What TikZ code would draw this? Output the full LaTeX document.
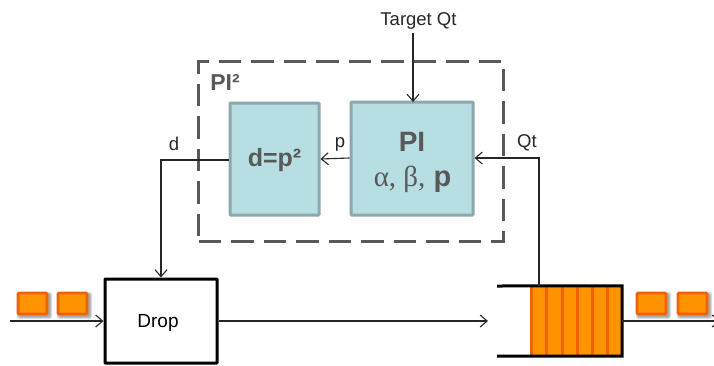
\documentclass[tikz,border=0pt]{standalone}
\usepackage{fontspec}
\setmainfont{Liberation Sans}
\newfontfamily\grk{Liberation Serif}
\usetikzlibrary{arrows.meta,calc}
\definecolor{txtgrey}{HTML}{595959}
\definecolor{tealfill}{HTML}{B7DEE3}
\definecolor{tealedge}{HTML}{8CA8AC}
\definecolor{orfill}{HTML}{FF9400}
\definecolor{oredge}{HTML}{F26000}
\tikzset{
  x=1pt,y=-1pt,
  conn/.style={line width=1.1pt,draw=black!85,-{Straight Barb[length=7pt,width=12pt,line width=1.1pt]}},
  tealbox/.style={draw=tealedge,fill=tealfill,line width=3pt,rounded corners=0.8pt,inner sep=0pt,text=txtgrey,align=center},
  packet/.style={draw=oredge,fill=orfill,line width=2.6pt,rounded corners=1pt,minimum width=29pt,minimum height=21pt,inner sep=0pt},
  pshadow/.style={fill=black,opacity=0.13,rounded corners=2pt,minimum width=33pt,minimum height=25pt,inner sep=0pt},
  label/.style={font=\fontsize{18.5}{22}\selectfont,text=black!85,inner sep=0pt},
  stripe/.style={draw=oredge,line width=3pt},
  qwall/.style={line width=3pt,draw=black},
}
\begin{document}
\begin{tikzpicture}
\useasboundingbox (0,0) rectangle (714,365);
% dashed PI2 frame
\node[draw=txtgrey,line width=3pt,dash pattern=on 22.5pt off 10pt,minimum width=305pt,minimum height=180pt,inner sep=0pt] (frame) at (351,151) {};
\node[text=txtgrey,font=\bfseries\fontsize{23}{26}\selectfont,inner sep=0pt] (pitwo) at (225,82) {PI²};
% boxes
\node[tealbox,minimum width=122pt,minimum height=113pt] (pi) at (412,158.5) {};
\node[text=txtgrey,inner sep=0pt,font=\bfseries\fontsize{28}{32}\selectfont] (pit) at (412,142) {PI};
\node[text=txtgrey,inner sep=0pt,font=\bfseries\fontsize{29}{32}\selectfont] (pip) at (412.5,179) {{\grk\mdseries α, β,} p};
\node[tealbox,minimum width=89pt,minimum height=112pt] (dbox) at (274.5,159) {};
\node[text=txtgrey,inner sep=0pt,font=\bfseries\fontsize{25}{28}\selectfont] (dtext) at (274.5,160.5) {d=p²};
\node[draw=black,line width=3pt,fill=white,minimum width=112pt,minimum height=84pt,inner sep=0pt,rounded corners=0.5pt] (drop) at (161,321) {};
\node[inner sep=0pt,font=\fontsize{19}{22}\selectfont] (droptext) at (158,322.5) {Drop};
% queue
\node[fill=orfill,minimum width=92pt,minimum height=70pt,inner sep=0pt] (queue) at (576,321) {};
\foreach \x in {531,546,562,577,592,607}{\draw[stripe] (\x,286) -- (\x,356);}
\coordinate (qtl) at (497,286);
\coordinate (qbl) at (497,356);
\draw[qwall] (qtl) -- (queue.north east) -- (queue.south east) -- (qbl);
% packets
\foreach \x in {32.5,72.5,651.5,692.5}{
  \foreach \d in {0,1,2}{\node[pshadow,minimum width=35pt-2pt*\d,minimum height=27pt-2pt*\d] at (\x+2,305.5) {};}
}
\node[packet] (pa) at (32.5,303.5) {};
\node[packet] (pb) at (72.5,303.5) {};
\node[packet] (pc) at (651.5,303.5) {};
\node[packet] (pd) at (692.5,303.5) {};
% labels
\node[label] (target) at (418.5,21) {Target Qt};
\node[label] (dl) at (174,144) {d};
\node[label] (pl) at (340,144) {p};
\node[label] (qtlab) at (527,143) {Qt};
% connectors
\coordinate (inStart) at (10,321);
\coordinate (targetEnd) at (413,33);
\coordinate (qend) at (488,321);
\coordinate (outEnd) at (720,321);
\coordinate (qtTap) at (539,286);
\coordinate (qtTurn) at (539,158);
\coordinate (dTurn) at (161,160);
\draw[conn] (inStart) -- (drop.west);
\draw[conn] (drop.east) -- (qend);
\draw[conn] (queue.east) -- (outEnd);
\draw[conn] (targetEnd) -- (413,102);
\draw[conn] (qtTap) -- (qtTurn) -- (pi.east |- qtTurn);
\draw[conn] (pi.west |- 0,158) -- (dbox.east |- 0,159);
\draw[conn] (dbox.west |- dTurn) -- (dTurn) -- (drop.north -| dTurn);
\end{tikzpicture}
\end{document}
